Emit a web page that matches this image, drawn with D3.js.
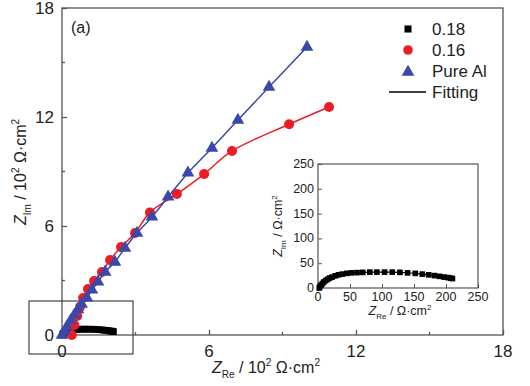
<!DOCTYPE html>
<html>
<head>
<meta charset="utf-8">
<script src="https://cdn.jsdelivr.net/npm/d3@7"></script>
<style>
  body { margin: 0; background: #fff; }
  svg text { font-family: Arial, "Liberation Sans", sans-serif; fill: #222; }
</style>
</head>
<body>
<div class="container"></div>
<script>
// values (main plot in 10^2 ohm cm2, inset in ohm cm2)
var alRe = [0, 0.1, 0.2, 0.35, 0.5, 0.65, 0.8, 1.02, 1.22, 1.47, 1.76, 2.16, 2.57, 3.06, 3.67, 4.33, 5.14, 6.12, 7.18, 8.45, 10.0];
var alIm = [0, 0.2, 0.45, 0.8, 1.1, 1.4, 1.7, 2.04, 2.48, 2.92, 3.47, 4.02, 4.79, 5.61, 6.5, 7.6, 8.92, 10.29, 11.83, 13.65, 15.85];

var r16Re = [0.4, 0.5, 0.62, 0.74, 0.86, 1.06, 1.31, 1.63, 1.96, 2.41, 2.98, 3.59, 4.69, 5.8, 6.94, 9.27, 10.9];
var r16Im = [0, 0.55, 1.05, 1.55, 2.04, 2.53, 2.97, 3.47, 4.13, 4.84, 5.61, 6.75, 7.76, 8.86, 10.13, 11.6, 12.55];

var r18Re = [2, 3, 5, 7, 9, 12, 15, 18, 22, 27, 32, 38, 45, 52, 61, 70, 81, 92, 104, 116, 128, 140, 152, 163, 173, 182, 190, 197, 203, 207, 210];
var r18Im = [0, 3, 6, 9, 12, 15, 17.5, 20, 22, 24.5, 26.5, 28, 29.5, 30.5, 31, 31.5, 32, 32, 32, 32, 31.5, 30.5, 29.5, 28, 26.5, 25, 23.5, 22, 21, 20, 19];

var mainTicks = [0, 6, 12, 18];
var mainMinor = [3, 9, 15];
var insetTicks = [0, 50, 100, 150, 200, 250];
var legendNames = ['0.18', '0.16', 'Pure Al', 'Fitting'];

var red = '#ec1c24', blue = '#3a48a8', axisCol = '#555';

var svg = d3.select('.container').append('svg')
  .attr('width', 530).attr('height', 386);

var x = d3.scaleLinear().domain([0, 18]).range([62, 503]);
var y = d3.scaleLinear().domain([0, 18]).range([335, 8]);

var zip = function(a, b, k) { return a.map(function(v, i) { return [v * k, b[i] * k]; }); };
var alData = zip(alRe, alIm, 1), r16Data = zip(r16Re, r16Im, 1);
var r18Main = zip(r18Re, r18Im, 0.01), r18Inset = zip(r18Re, r18Im, 1);

// frame
svg.append('rect').attr('x', 62).attr('y', 8).attr('width', 441).attr('height', 327)
  .attr('fill', 'none').attr('stroke', axisCol).attr('stroke-width', 1.3);

var bottom = svg.append('g').attr('transform', 'translate(0,335)');
bottom.call(d3.axisBottom(x).tickValues(mainTicks).tickSize(-5).tickFormat(''));
bottom.call(function(g) { g.select('.domain').remove(); });
bottom.selectAll('line').attr('stroke', axisCol).attr('stroke-width', 1.3);
mainMinor.forEach(function(v) {
  bottom.append('line').attr('x1', x(v)).attr('x2', x(v)).attr('y1', 0).attr('y2', -3)
    .attr('stroke', axisCol).attr('stroke-width', 1.3);
});
var left = svg.append('g').attr('transform', 'translate(62,0)');
left.call(d3.axisLeft(y).tickValues(mainTicks).tickSize(-5).tickFormat(''));
left.call(function(g) { g.select('.domain').remove(); });
left.selectAll('line').attr('stroke', axisCol).attr('stroke-width', 1.3);
mainMinor.forEach(function(v) {
  left.append('line').attr('y1', y(v)).attr('y2', y(v)).attr('x1', 0).attr('x2', 3)
    .attr('stroke', axisCol).attr('stroke-width', 1.3);
});

svg.selectAll('.xl').data(mainTicks).enter().append('text')
  .attr('x', function(d) { return x(d); }).attr('y', 357)
  .attr('text-anchor', 'middle').attr('font-size', 17).text(function(d) { return d; });
svg.selectAll('.yl').data(mainTicks).enter().append('text')
  .attr('x', 54).attr('y', function(d) { return y(d) + 6; })
  .attr('text-anchor', 'end').attr('font-size', 17).text(function(d) { return d; });

// axis titles
var xt = svg.append('text').attr('x', 266).attr('y', 373).attr('text-anchor', 'middle').attr('font-size', 16);
xt.append('tspan').attr('font-style', 'italic').text('Z');
xt.append('tspan').attr('font-size', 10).attr('dy', 5).text('Re');
xt.append('tspan').attr('dy', -5).text(' / 10');
xt.append('tspan').attr('font-size', 10).attr('dy', -7).text('2');
xt.append('tspan').attr('dy', 7).text(' \u03A9\u00B7cm');
xt.append('tspan').attr('font-size', 10).attr('dy', -7).text('2');

var yt = svg.append('text').attr('transform', 'translate(26,172) rotate(-90)')
  .attr('text-anchor', 'middle').attr('font-size', 16);
yt.append('tspan').attr('font-style', 'italic').text('Z');
yt.append('tspan').attr('font-size', 10).attr('dy', 5).text('Im');
yt.append('tspan').attr('dy', -5).text(' / 10');
yt.append('tspan').attr('font-size', 10).attr('dy', -7).text('2');
yt.append('tspan').attr('dy', 7).text(' \u03A9\u00B7cm');
yt.append('tspan').attr('font-size', 10).attr('dy', -7).text('2');

svg.append('text').attr('x', 71).attr('y', 33).attr('font-size', 16).text('(a)');

// zoom box round origin
svg.append('rect').attr('x', 29).attr('y', 301).attr('width', 104).attr('height', 53)
  .attr('fill', 'none').attr('stroke', '#333').attr('stroke-width', 1.1);

var line = d3.line().curve(d3.curveCatmullRom)
  .x(function(d) { return x(d[0]); }).y(function(d) { return y(d[1]); });

var tri = d3.symbol().type(d3.symbolTriangle).size(70);
var sq = d3.symbol().type(d3.symbolSquare).size(45);

// 0.18 in main plot
svg.append('path').datum(r18Main).attr('d', line).attr('fill', 'none').attr('stroke', '#000').attr('stroke-width', 1.2);
svg.selectAll('.s18').data(r18Main).enter().append('path')
  .attr('d', sq).attr('fill', '#000')
  .attr('transform', function(d) { return 'translate(' + x(d[0]) + ',' + y(d[1]) + ')'; });

// 0.16
svg.append('path').datum(r16Data).attr('d', line).attr('fill', 'none').attr('stroke', red).attr('stroke-width', 1.5);
svg.selectAll('.c16').data(r16Data).enter().append('circle')
  .attr('cx', function(d) { return x(d[0]); }).attr('cy', function(d) { return y(d[1]); })
  .attr('r', 5).attr('fill', red);

// pure Al
svg.append('path').datum(alData).attr('d', line).attr('fill', 'none').attr('stroke', blue).attr('stroke-width', 1.5);
svg.selectAll('.tal').data(alData).enter().append('path')
  .attr('d', tri).attr('fill', blue)
  .attr('transform', function(d) { return 'translate(' + x(d[0]) + ',' + y(d[1]) + ')'; });

// legend
var lg = svg.append('g');
var rows = [29, 50, 71, 92];
lg.append('path').attr('d', d3.symbol().type(d3.symbolSquare).size(50)).attr('fill', '#000')
  .attr('transform', 'translate(408,' + rows[0] + ')');
lg.append('circle').attr('cx', 408).attr('cy', rows[1]).attr('r', 4.8).attr('fill', red);
lg.append('path').attr('d', tri).attr('fill', blue).attr('transform', 'translate(408,' + (rows[2] + 1) + ')');
lg.append('line').attr('x1', 389).attr('x2', 426).attr('y1', rows[3]).attr('y2', rows[3])
  .attr('stroke', '#000').attr('stroke-width', 1.5);
lg.selectAll('text').data(legendNames).enter().append('text')
  .attr('x', 432).attr('y', function(d, i) { return rows[i] + 6; })
  .attr('font-size', 17).text(function(d) { return d; });

// inset
var ix = d3.scaleLinear().domain([0, 250]).range([318, 478]);
var iy = d3.scaleLinear().domain([0, 250]).range([288, 164]);
svg.append('rect').attr('x', 318).attr('y', 164).attr('width', 160).attr('height', 124)
  .attr('fill', '#fff').attr('stroke', axisCol).attr('stroke-width', 1.2);
var ib = svg.append('g').attr('transform', 'translate(0,288)');
ib.call(d3.axisBottom(ix).tickValues(insetTicks).tickSize(-4).tickFormat(''));
ib.call(function(g) { g.select('.domain').remove(); });
ib.selectAll('line').attr('stroke', axisCol);
var il = svg.append('g').attr('transform', 'translate(318,0)');
il.call(d3.axisLeft(iy).tickValues(insetTicks).tickSize(-4).tickFormat(''));
il.call(function(g) { g.select('.domain').remove(); });
il.selectAll('line').attr('stroke', axisCol);

svg.selectAll('.ixl').data(insetTicks).enter().append('text')
  .attr('x', function(d) { return ix(d); }).attr('y', 301)
  .attr('text-anchor', 'middle').attr('font-size', 12.5).text(function(d) { return d; });
svg.selectAll('.iyl').data(insetTicks).enter().append('text')
  .attr('x', 314).attr('y', function(d) { return iy(d) + 4; })
  .attr('text-anchor', 'end').attr('font-size', 12.5).text(function(d) { return d; });

var ixt = svg.append('text').attr('x', 400).attr('y', 315).attr('text-anchor', 'middle').attr('font-size', 12.5);
ixt.append('tspan').attr('font-style', 'italic').text('Z');
ixt.append('tspan').attr('font-size', 8).attr('dy', 4).text('Re');
ixt.append('tspan').attr('dy', -4).text(' / \u03A9\u00B7cm');
ixt.append('tspan').attr('font-size', 8).attr('dy', -5).text('2');

var iyt = svg.append('text').attr('transform', 'translate(282,226) rotate(-90)')
  .attr('text-anchor', 'middle').attr('font-size', 12.5);
iyt.append('tspan').attr('font-style', 'italic').text('Z');
iyt.append('tspan').attr('font-size', 8).attr('dy', 4).text('Im');
iyt.append('tspan').attr('dy', -4).text(' / \u03A9\u00B7cm');
iyt.append('tspan').attr('font-size', 8).attr('dy', -5).text('2');

var iline = d3.line().curve(d3.curveCatmullRom)
  .x(function(d) { return ix(d[0]); }).y(function(d) { return iy(d[1]); });
svg.append('path').datum(r18Inset).attr('d', iline).attr('fill', 'none').attr('stroke', '#000').attr('stroke-width', 1.2);
svg.selectAll('.is18').data(r18Inset).enter().append('path')
  .attr('d', d3.symbol().type(d3.symbolSquare).size(32)).attr('fill', '#000')
  .attr('transform', function(d) { return 'translate(' + ix(d[0]) + ',' + iy(d[1]) + ')'; });
</script>
</body>
</html>
